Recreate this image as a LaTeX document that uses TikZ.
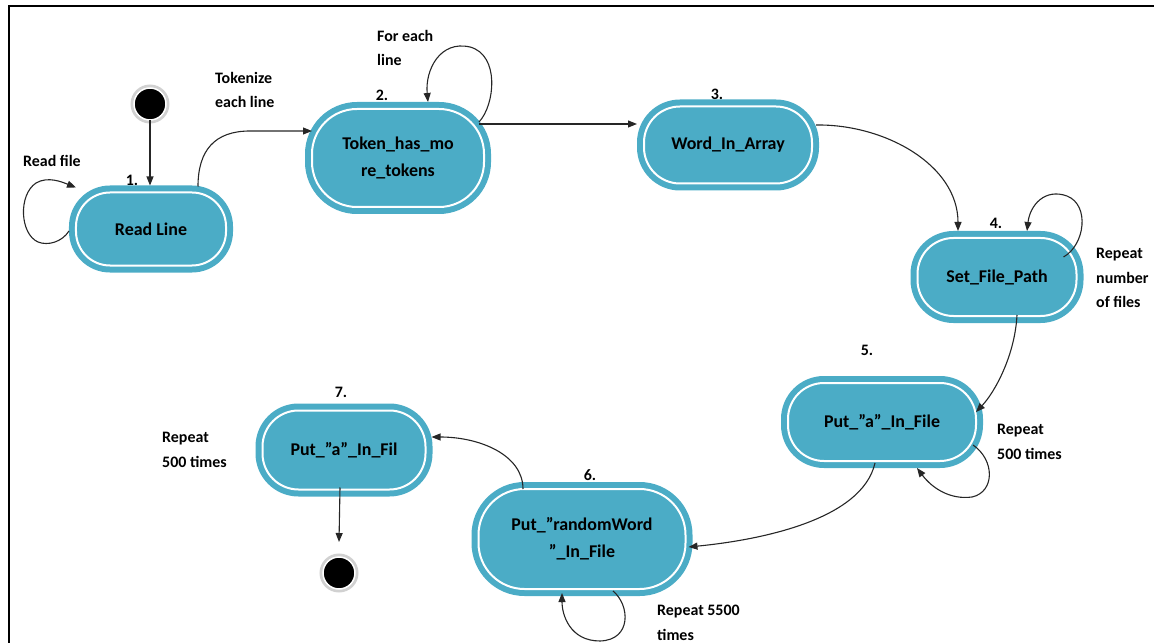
\documentclass[tikz,border=0pt]{standalone}
\usepackage{fontspec}
\setmainfont{Carlito}
\usetikzlibrary{arrows.meta,calc}
\definecolor{stateblue}{RGB}{75,172,198}
\begin{document}
\begin{tikzpicture}[x=1bp,y=-1bp,
  state/.style={rectangle, fill=stateblue, draw=white, line width=2bp,
    preaction={draw=stateblue, line width=14bp}, outer sep=7bp, inner sep=0pt,
    align=center, font=\fontsize{18}{27}\selectfont\bfseries},
  dot/.style={circle, fill=black, draw=white, line width=1.5bp, minimum size=32bp,
    inner sep=0pt, outer sep=0pt, preaction={draw=black!18, line width=7bp}},
  lbl/.style={font=\fontsize{16}{24.5}\selectfont\bfseries, align=left, anchor=west, inner sep=0pt},
  num/.style={font=\fontsize{16}{19}\selectfont\bfseries, inner sep=0pt},
  conn/.style={draw=black!85, line width=1.1bp, -{Triangle[length=9bp,width=7bp]}},
  wire/.style={draw=black!85, line width=1.1bp}]
\useasboundingbox (0,0) rectangle (1154,643);

% frame
\draw[line width=2.5bp] (1154,6) -- (9,6) -- (9,643);

% states
\node[state, minimum width=150bp, minimum height=73bp, rounded corners=34bp] (n1) at (151,229) {Read Line};
\node[state, minimum width=172bp, minimum height=98bp, rounded corners=45bp] (n2) at (398,158) {Token\_has\_mo\\re\_tokens};
\node[state, minimum width=168bp, minimum height=77bp, rounded corners=36bp] (n3) at (728,145) {Word\_In\_Array};
\node[state, minimum width=159bp, minimum height=78bp, rounded corners=36bp] (n4) at (997,277) {Set\_File\_Path};
\node[state, minimum width=188bp, minimum height=78bp, rounded corners=36bp] (n5) at (882,422) {Put\_”a”\_In\_File};
\node[state, minimum width=207bp, minimum height=100bp, rounded corners=46bp] (n6) at (582,539) {Put\_”randomWord\\”\_In\_File};
\node[state, minimum width=163bp, minimum height=79bp, rounded corners=36bp] (n7) at (344,450) {Put\_”a”\_In\_Fil};

% start and end
\node[dot] (init) at (150,104) {};
\node[dot] (final) at (339,573) {};

% step numbers
\node[num] (k1) at (132,180) {1.};
\node[num] (k2) at (382,95) {2.};
\node[num] (k3) at (717,94) {3.};
\node[num] (k4) at (996,223) {4.};
\node[num] (k5) at (867,350) {5.};
\node[num] (k6) at (590,475) {6.};
\node[num] (k7) at (341,392) {7.};

% notes
\node[lbl] (t1) at (23,161) {Read file};
\node[lbl] (t2) at (215,90) {Tokenize\\each line};
\node[lbl] (t3) at (377,48) {For each\\line};
\node[lbl] (t4) at (1096,278) {Repeat\\number\\of files};
\node[lbl] (t5) at (997,442) {Repeat\\500 times};
\node[lbl] (t6) at (657,623) {Repeat 5500\\times};
\node[lbl] (t7) at (162,450) {Repeat\\500 times};

% transitions
\draw[conn] (init) -- (init |- n1.north);
\draw[conn] ($(n1.west)+(0,2)$) .. controls (62,242) and (48,246) .. (38,242)
  .. controls (20,234) and (18,195) .. (36,183)
  .. controls (48,176) and (62,182) .. ($(n1.north west)+(7,2)$);
\draw[conn] ($(n1.north)+(47,1)$) .. controls (198,150) and (215,131) .. (250,131)
  -- ($(n2.west)+(7,-27)$);
\draw[conn] ($(n2.east)+(-12,-36)$) .. controls (495,105) and (500,55) .. (470,47)
  .. controls (440,40) and (425,70) .. ($(n2.north)+(30,0)$);
\draw[conn] ($(n2.east)+(-12,-34)$) -- ($(n3.west)+(0,-21)$);
\draw[conn] ($(n3.east)+(-3,-20)$) .. controls (885,124) and (958,165) .. ($(n4.north)+(-39,0)$);
\draw[conn] ($(n4.east)+(-20,-20)$) .. controls (1085,245) and (1090,205) .. (1067,196)
  .. controls (1045,188) and (1030,205) .. ($(n4.north)+(30,0)$);
\draw[conn] ($(n4.south)+(20,-8)$) .. controls (1015,355) and (995,392) .. ($(n5.east)+(-7,-10)$);
\draw[conn] ($(n5.east)+(-10,23)$) .. controls (995,460) and (995,492) .. (972,497)
  .. controls (950,500) and (932,488) .. ($(n5.south)+(35,0)$);
\draw[conn] ($(n5.south)+(-7,-5)$) .. controls (862,520) and (760,540) .. ($(n6.east)+(-4,8)$);
\draw[conn] ($(n6.south)+(31,-5)$) .. controls (630,605) and (632,640) .. (600,641)
  .. controls (570,641) and (562,615) .. ($(n6.south)+(-20,-3)$);
\draw[conn] ($(n6.north)+(-59,7)$) .. controls (523,455) and (480,437) .. ($(n7.east)+(-1,-13)$);
\draw[conn] ($(n7.south)+(-4,-9)$) -- ($(final.north)+(0,-15)$);
\end{tikzpicture}
\end{document}
